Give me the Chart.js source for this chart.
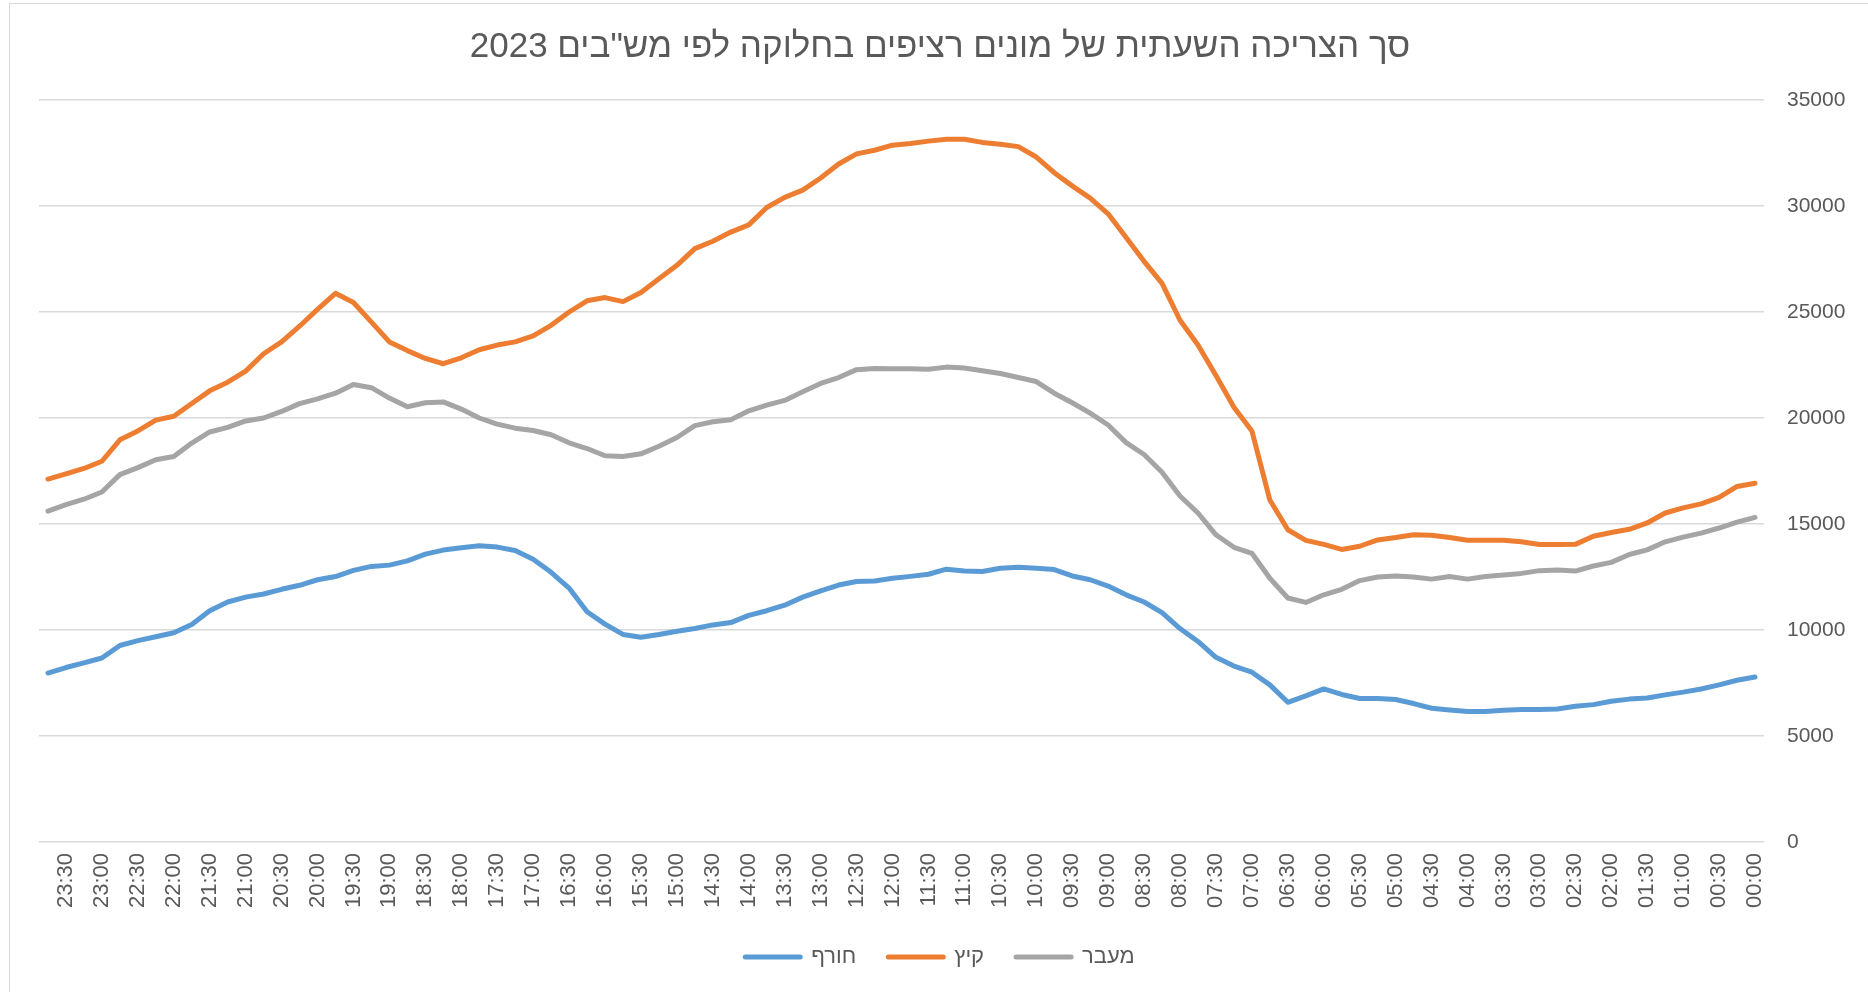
<!DOCTYPE html>
<html lang="he">
<head>
<meta charset="utf-8">
<title>סך הצריכה השעתית 2023</title>
<script src="https://cdn.jsdelivr.net/npm/chart.js@4.4.1/dist/chart.umd.min.js"></script>
<style>
  html, body { margin: 0; padding: 0; background: #fff; overflow: hidden; }
  #wrap { position: relative; width: 1868px; height: 992px; }
  #frame { position: absolute; left: 9px; top: 3px; right: -4px; bottom: -4px; border: 1px solid #d9d9d9; }
  canvas { position: absolute; left: 0; top: 0; }
</style>
</head>
<body>
<div id="wrap">
  <div id="frame"></div>
  <canvas id="usageChart" width="1868" height="992" dir="rtl"></canvas>
</div>
<script>
// time of day, every 15 minutes (axis is drawn right-to-left)
const times = [
  '00:00', '00:15', '00:30', '00:45', '01:00', '01:15', '01:30', '01:45',
  '02:00', '02:15', '02:30', '02:45', '03:00', '03:15', '03:30', '03:45',
  '04:00', '04:15', '04:30', '04:45', '05:00', '05:15', '05:30', '05:45',
  '06:00', '06:15', '06:30', '06:45', '07:00', '07:15', '07:30', '07:45',
  '08:00', '08:15', '08:30', '08:45', '09:00', '09:15', '09:30', '09:45',
  '10:00', '10:15', '10:30', '10:45', '11:00', '11:15', '11:30', '11:45',
  '12:00', '12:15', '12:30', '12:45', '13:00', '13:15', '13:30', '13:45',
  '14:00', '14:15', '14:30', '14:45', '15:00', '15:15', '15:30', '15:45',
  '16:00', '16:15', '16:30', '16:45', '17:00', '17:15', '17:30', '17:45',
  '18:00', '18:15', '18:30', '18:45', '19:00', '19:15', '19:30', '19:45',
  '20:00', '20:15', '20:30', '20:45', '21:00', '21:15', '21:30', '21:45',
  '22:00', '22:15', '22:30', '22:45', '23:00', '23:15', '23:30', '23:45'
];

// חורף
const winter = [
  7780, 7630, 7410, 7220, 7070, 6940, 6790, 6740, 6640, 6480, 6400, 6270, 6250, 6250, 6220, 6160,
  6160, 6230, 6310, 6530, 6720, 6770, 6770, 6960, 7220, 6890, 6590, 7410, 8010, 8300, 8710, 9460,
  10070, 10820, 11320, 11660, 12070, 12370, 12550, 12850, 12910, 12960, 12910, 12760, 12780, 12870, 12630, 12530,
  12440, 12310, 12290, 12120, 11850, 11550, 11170, 10910, 10690, 10350, 10240, 10070, 9940, 9790, 9660, 9790,
  10280, 10860, 11980, 12720, 13340, 13750, 13910, 13970, 13880, 13770, 13580, 13260, 13060, 13000, 12810, 12520,
  12370, 12110, 11920, 11700, 11550, 11320, 10910, 10260, 9870, 9680, 9500, 9270, 8680, 8450, 8230, 7970
];

// קיץ
const summer = [
  16920, 16770, 16260, 15950, 15760, 15520, 15050, 14750, 14600, 14420, 14040, 14030, 14030, 14160, 14230, 14230,
  14230, 14360, 14470, 14490, 14360, 14250, 13950, 13800, 14040, 14230, 14730, 16130, 19390, 20510, 22000, 23440,
  24610, 26350, 27390, 28510, 29630, 30370, 30950, 31570, 32310, 32800, 32910, 33000, 33150, 33150, 33060, 32950,
  32870, 32630, 32460, 31980, 31320, 30750, 30410, 29930, 29110, 28770, 28340, 27990, 27200, 26570, 25920, 25490,
  25680, 25530, 25000, 24370, 23870, 23590, 23440, 23220, 22840, 22560, 22810, 23180, 23590, 24520, 25450, 25880,
  25120, 24330, 23590, 23030, 22210, 21690, 21280, 20680, 20080, 19900, 19390, 18970, 17960, 17620, 17360, 17120
];

// מעבר
const transition = [
  15310, 15090, 14810, 14570, 14380, 14160, 13780, 13560, 13190, 13020, 12780, 12830, 12800, 12670, 12590, 12520,
  12400, 12520, 12400, 12500, 12550, 12500, 12330, 11920, 11660, 11300, 11510, 12440, 13620, 13900, 14490, 15520,
  16320, 17440, 18280, 18840, 19670, 20230, 20720, 21170, 21720, 21910, 22100, 22230, 22360, 22400, 22300, 22320,
  22320, 22340, 22280, 21910, 21630, 21240, 20830, 20610, 20340, 19920, 19820, 19640, 19080, 18670, 18310, 18180,
  18220, 18560, 18830, 19210, 19410, 19520, 19710, 20000, 20420, 20760, 20720, 20530, 20940, 21430, 21580, 21170,
  20900, 20680, 20310, 20000, 19860, 19560, 19340, 18820, 18180, 18030, 17660, 17330, 16510, 16170, 15910, 15610
];

const seriesNames = ['חורף', 'קיץ', 'מעבר'];
const seriesColors = ['#5B9BD5', '#ED7D31', '#A5A5A5'];
const chartTitle = 'סך הצריכה השעתית של מונים רציפים בחלוקה לפי מש"בים 2023';
const yMin = 0;
const yMax = 35000;
const yStep = 5000;

Chart.defaults.font.family = "'Liberation Sans', Arial, 'DejaVu Sans', sans-serif";
Chart.defaults.color = '#595959';

const seriesData = [winter, summer, transition];

// legend shows thick round-capped line samples like the Excel original
function legendLabels(chart) {
  return Chart.defaults.plugins.legend.labels.generateLabels(chart).map(item => ({
    ...item,
    lineWidth: 5,
    lineCap: 'round'
  }));
}

new Chart(document.getElementById('usageChart'), {
  type: 'line',
  data: {
    labels: times,
    datasets: seriesData.map((values, i) => ({
      label: seriesNames[i],
      data: values,
      xAxisID: 'x',
      yAxisID: 'y',
      borderColor: seriesColors[i],
      backgroundColor: seriesColors[i],
      pointBorderColor: seriesColors[i]
    }))
  },
  options: {
    responsive: false,
    animation: false,
    events: [],
    layout: { padding: { left: 12, right: 0, top: 0, bottom: 14 } },
    elements: {
      point: { radius: 0, hoverRadius: 0 },
      line: { borderWidth: 5, tension: 0, borderCapStyle: 'round', borderJoinStyle: 'round' }
    },
    plugins: {
      title: {
        display: true,
        text: chartTitle,
        color: '#595959',
        font: { size: 35, weight: 'normal' },
        padding: { top: 26, bottom: 32 }
      },
      legend: {
        position: 'bottom',
        labels: {
          usePointStyle: true,
          pointStyle: 'line',
          pointStyleWidth: 55,
          padding: 32,
          color: '#595959',
          font: { size: 22 },
          generateLabels: legendLabels
        }
      },
      tooltip: { enabled: false }
    },
    scales: {
      x: {
        reverse: true,
        offset: true,
        grid: { display: false },
        border: { display: false },
        ticks: {
          autoSkip: false,
          minRotation: 90,
          maxRotation: 90,
          padding: 3,
          color: '#595959',
          font: { size: 22 },
          callback: function (value, index) {
            return index % 2 === 0 ? this.getLabelForValue(value) : null;
          }
        },
        afterFit: (scale) => { scale.height = 72; }
      },
      y: {
        position: 'right',
        min: yMin,
        max: yMax,
        grid: { color: '#d9d9d9', lineWidth: 1.5, drawTicks: false },
        border: { display: false },
        ticks: {
          stepSize: yStep,
          padding: 23,
          color: '#595959',
          font: { size: 21 },
          callback: (v) => String(v)
        },
        afterFit: (scale) => { scale.width = 104; }
      },
      // empty spacer on the left so the plot starts where Excel's does
      spacer: {
        type: 'linear',
        position: 'left',
        grid: { display: false },
        border: { display: false },
        ticks: { display: false },
        afterFit: (scale) => { scale.width = 27; }
      }
    }
  }
});
</script>
</body>
</html>
